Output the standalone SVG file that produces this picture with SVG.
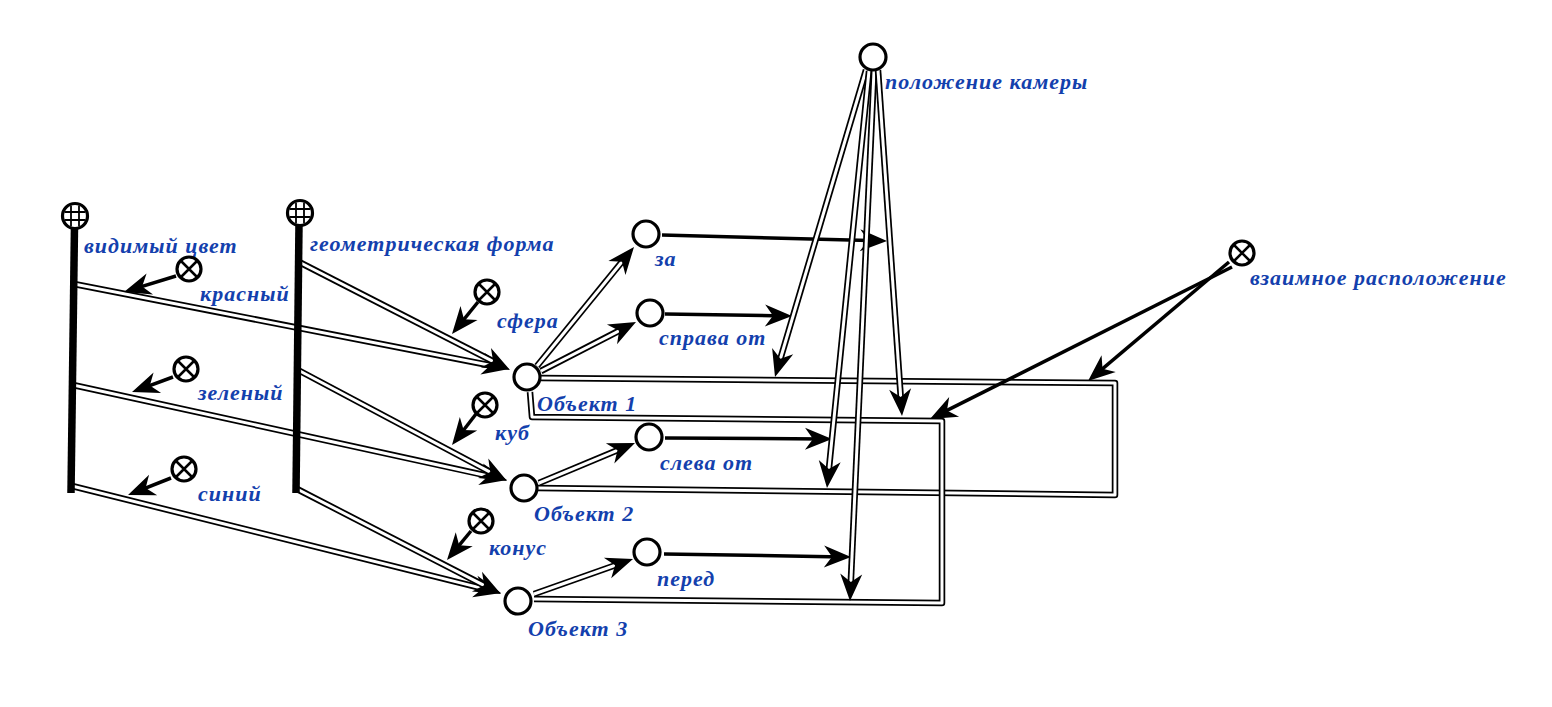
<svg xmlns="http://www.w3.org/2000/svg" width="1552" height="707" viewBox="0 0 1552 707">
<style>
.lbl{font-family:"Liberation Serif","DejaVu Serif",serif;font-style:italic;font-weight:bold;font-size:22px;letter-spacing:1px;fill:#1340ad}
.dbo{fill:none;stroke:#000;stroke-width:6.5;stroke-linejoin:round}
.dbi{fill:none;stroke:#fff;stroke-width:3;stroke-linejoin:round}
.thk{fill:none;stroke:#000;stroke-width:3.5}
.mk{fill:none;stroke:none}
.nd{fill:#fff;stroke:#000;stroke-width:3.2}
.gl{stroke:#000;stroke-width:1.8}
.bar{stroke:#000;stroke-width:7.5}
</style>
<defs>
<marker id="ah" viewBox="-30 -14 32 28" markerWidth="32" markerHeight="28" refX="0" refY="0" orient="auto" markerUnits="userSpaceOnUse">
<path d="M0,0 L-27,-11 L-19,0 L-27,11 Z" fill="#000"/>
</marker>
<clipPath id="cc"><circle cx="0" cy="0" r="11"/></clipPath>
</defs>
<rect width="1552" height="707" fill="#fff"/>

<g id="connectors">
<!-- attribute bars to objects -->
<path class="dbo" d="M74,284 L497.2,366.7"/><path class="dbi" d="M74,284 L491.3,365.5"/><path class="mk" d="M74,284 L509,369" marker-end="url(#ah)"/>
<path class="dbo" d="M73,385 L495.3,477.4"/><path class="dbi" d="M73,385 L489.4,476.2"/><path class="mk" d="M73,385 L507,480" marker-end="url(#ah)"/>
<path class="dbo" d="M72,486 L489.4,590.1"/><path class="dbi" d="M72,486 L483.5,588.6"/><path class="mk" d="M72,486 L501,593" marker-end="url(#ah)"/>
<path class="dbo" d="M299,262 L499.3,364.5"/><path class="dbi" d="M299,262 L494,361.8"/><path class="mk" d="M299,262 L510,370" marker-end="url(#ah)"/>
<path class="dbo" d="M298,370 L496.4,475.4"/><path class="dbi" d="M298,370 L491.1,472.6"/><path class="mk" d="M298,370 L507,481" marker-end="url(#ah)"/>
<path class="dbo" d="M297,489 L490.3,588.5"/><path class="dbi" d="M297,489 L485,585.8"/><path class="mk" d="M297,489 L501,594" marker-end="url(#ah)"/>
<!-- value markers -->
<path class="thk" d="M176,276 L131.6,289.6"/><path class="mk" d="M176,276 L124,292" marker-end="url(#ah)"/>
<path class="thk" d="M173,377 L139.5,389.3"/><path class="mk" d="M173,377 L132,392" marker-end="url(#ah)"/>
<path class="thk" d="M171,478 L135.4,492.1"/><path class="mk" d="M171,478 L128,495" marker-end="url(#ah)"/>
<path class="thk" d="M478,302 L457,327.8"/><path class="mk" d="M478,302 L452,334" marker-end="url(#ah)"/>
<path class="thk" d="M476,414 L456.9,438.7"/><path class="mk" d="M476,414 L452,445" marker-end="url(#ah)"/>
<path class="thk" d="M471,531 L452.1,553.8"/><path class="mk" d="M471,531 L447,560" marker-end="url(#ah)"/>
<!-- relation rectangles -->
<path class="dbo" d="M541,378 L1115,383 L1115,495 L538,488"/><path class="dbi" d="M541,378 L1115,383 L1115,495 L538,488"/>
<path class="dbo" d="M530,392 L532,417 L942,421 L942,603 L534,599"/><path class="dbi" d="M530,392 L532,417 L942,421 L942,603 L534,599"/>
<!-- objects to relations -->
<path class="dbo" d="M537,366 L626.4,256.3"/><path class="dbi" d="M537,366 L622.6,261"/><path class="mk" d="M537,366 L634,247" marker-end="url(#ah)"/>
<path class="dbo" d="M541,371 L625.3,327.5"/><path class="dbi" d="M541,371 L620,330.3"/><path class="mk" d="M541,371 L636,322" marker-end="url(#ah)"/>
<path class="dbo" d="M539,483 L623.9,447.6"/><path class="dbi" d="M539,483 L618.4,449.9"/><path class="mk" d="M539,483 L635,443" marker-end="url(#ah)"/>
<path class="dbo" d="M534,594 L621.7,563"/><path class="dbi" d="M534,594 L616,565"/><path class="mk" d="M534,594 L633,559" marker-end="url(#ah)"/>
<!-- relation arrows -->
<path class="thk" d="M662,235 L879,240.8"/><path class="mk" d="M662,235 L887,241" marker-end="url(#ah)"/>
<path class="thk" d="M665,314 L784,315.9"/><path class="mk" d="M665,314 L792,316" marker-end="url(#ah)"/>
<path class="thk" d="M665,438 L824,438.95"/><path class="mk" d="M665,438 L832,439" marker-end="url(#ah)"/>
<path class="thk" d="M664,554 L843,556.9"/><path class="mk" d="M664,554 L851,557" marker-end="url(#ah)"/>
<!-- camera -->
<path class="dbo" d="M866,70 L778.4,365.5"/><path class="dbi" d="M866,70 L780.1,359.7"/><path class="mk" d="M866,70 L775,377" marker-end="url(#ah)"/>
<path class="dbo" d="M869,71 L828.2,476.1"/><path class="dbi" d="M869,71 L828.8,470.1"/><path class="mk" d="M869,71 L827,488" marker-end="url(#ah)"/>
<path class="dbo" d="M874,71 L850.5,589"/><path class="dbi" d="M874,71 L850.8,583"/><path class="mk" d="M874,71 L850,601" marker-end="url(#ah)"/>
<path class="dbo" d="M878,70 L901.2,404"/><path class="dbi" d="M878,70 L900.8,398"/><path class="mk" d="M878,70 L902,416" marker-end="url(#ah)"/>
<!-- mutual position -->
<path class="thk" d="M1229,262 L1094.1,375.8"/><path class="mk" d="M1229,262 L1088,381" marker-end="url(#ah)"/>
<path class="thk" d="M1232,267 L937.1,415.4"/><path class="mk" d="M1232,267 L930,419" marker-end="url(#ah)"/>
</g>

<g id="visible-color">
<line class="bar" x1="74.5" y1="226" x2="71" y2="493"/>
<circle class="nd" cx="75" cy="216" r="12.5"/>
<g transform="translate(75,216)" clip-path="url(#cc)"><line class="gl" x1="-4" y1="-12" x2="-4" y2="12"/><line class="gl" x1="4" y1="-12" x2="4" y2="12"/><line class="gl" x1="-12" y1="-4" x2="12" y2="-4"/><line class="gl" x1="-12" y1="4" x2="12" y2="4"/></g>
<text class="lbl" x="84" y="253">видимый цвет</text>
</g>
<g id="geometric-form">
<line class="bar" x1="299" y1="224" x2="296" y2="493"/>
<circle class="nd" cx="300" cy="213" r="12.5"/>
<g transform="translate(300,213)" clip-path="url(#cc)"><line class="gl" x1="-4" y1="-12" x2="-4" y2="12"/><line class="gl" x1="4" y1="-12" x2="4" y2="12"/><line class="gl" x1="-12" y1="-4" x2="12" y2="-4"/><line class="gl" x1="-12" y1="4" x2="12" y2="4"/></g>
<text class="lbl" x="310" y="251">геометрическая форма</text>
</g>

<g id="red"><circle class="nd" cx="189" cy="269" r="12"/><path class="gl" style="stroke-width:2.5" d="M180.5,260.5 L197.5,277.5 M197.5,260.5 L180.5,277.5"/><text class="lbl" x="200" y="301">красный</text></g>
<g id="green"><circle class="nd" cx="186" cy="369" r="12"/><path class="gl" style="stroke-width:2.5" d="M177.5,360.5 L194.5,377.5 M194.5,360.5 L177.5,377.5"/><text class="lbl" x="198" y="400">зеленый</text></g>
<g id="blue"><circle class="nd" cx="184" cy="469" r="12"/><path class="gl" style="stroke-width:2.5" d="M175.5,460.5 L192.5,477.5 M192.5,460.5 L175.5,477.5"/><text class="lbl" x="198" y="501">синий</text></g>
<g id="sphere"><circle class="nd" cx="487" cy="292" r="12"/><path class="gl" style="stroke-width:2.5" d="M478.5,283.5 L495.5,300.5 M495.5,283.5 L478.5,300.5"/><text class="lbl" x="497" y="328">сфера</text></g>
<g id="cube"><circle class="nd" cx="485" cy="405" r="12"/><path class="gl" style="stroke-width:2.5" d="M476.5,396.5 L493.5,413.5 M493.5,396.5 L476.5,413.5"/><text class="lbl" x="495" y="440">куб</text></g>
<g id="cone"><circle class="nd" cx="481" cy="521" r="12"/><path class="gl" style="stroke-width:2.5" d="M472.5,512.5 L489.5,529.5 M489.5,512.5 L472.5,529.5"/><text class="lbl" x="489" y="555">конус</text></g>
<g id="mutual"><circle class="nd" cx="1242" cy="253" r="12"/><path class="gl" style="stroke-width:2.5" d="M1233.5,244.5 L1250.5,261.5 M1250.5,244.5 L1233.5,261.5"/><text class="lbl" x="1250" y="285">взаимное расположение</text></g>

<g id="object1"><circle class="nd" cx="527" cy="377" r="13"/><text class="lbl" x="537" y="411">Объект 1</text></g>
<g id="object2"><circle class="nd" cx="524" cy="488" r="13"/><text class="lbl" x="534" y="521">Объект 2</text></g>
<g id="object3"><circle class="nd" cx="518" cy="601" r="13"/><text class="lbl" x="528" y="636">Объект 3</text></g>

<g id="behind"><circle class="nd" cx="646" cy="234" r="13"/><text class="lbl" x="655" y="266">за</text></g>
<g id="right-of"><circle class="nd" cx="650" cy="313" r="13"/><text class="lbl" x="659" y="345">справа от</text></g>
<g id="left-of"><circle class="nd" cx="649" cy="437" r="13"/><text class="lbl" x="660" y="470">слева от</text></g>
<g id="front"><circle class="nd" cx="647" cy="552" r="13"/><text class="lbl" x="657" y="586">перед</text></g>
<g id="camera"><circle class="nd" cx="873" cy="57" r="13"/><text class="lbl" x="885" y="89">положение камеры</text></g>
</svg>
